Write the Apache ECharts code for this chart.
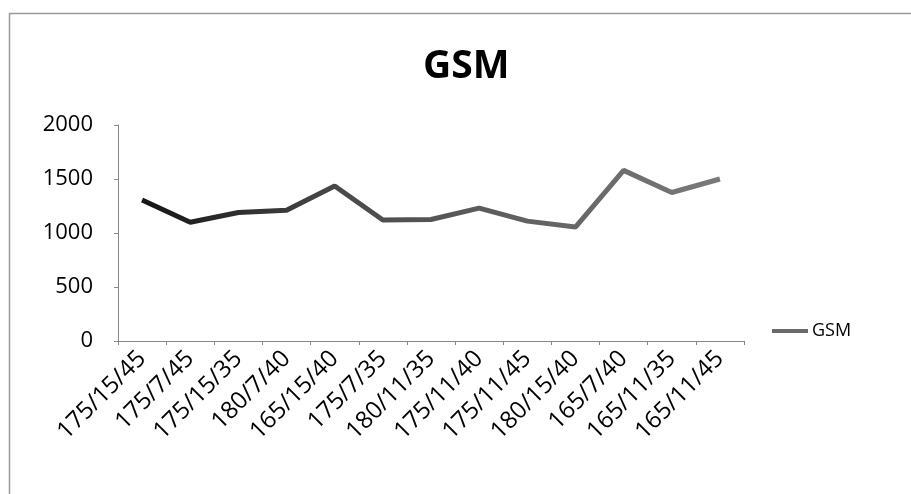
<!DOCTYPE html>
<html>
<head>
<meta charset="utf-8">
<script src="https://cdn.jsdelivr.net/npm/echarts@6/dist/echarts.min.js"></script>
<style>
  html, body { margin: 0; padding: 0; background: #fff; }
  #chart { width: 911px; height: 494px; }
</style>
</head>
<body>
<div id="chart"></div>
<script>
// Fabric specs (GSM reading per sample)
const categories = ['175/15/45', '175/7/45', '175/15/35', '180/7/40', '165/15/40', '175/7/35',
  '180/11/35', '175/11/40', '175/11/45', '180/15/40', '165/7/40', '165/11/35', '165/11/45'];
const gsmValues = [1305, 1100, 1190, 1210, 1435, 1120, 1125, 1230, 1110, 1055, 1580, 1375, 1500];
const yTicks = { min: 0, max: 2000, interval: 500 };

const FONT = 'Open Sans';
const chart = echarts.init(document.getElementById('chart'), null, { renderer: 'canvas' });

const lineColor = new echarts.graphic.LinearGradient(0, 0, 1, 0, [
  { offset: 0, color: '#151515' },
  { offset: 0.35, color: '#4a4a4a' },
  { offset: 1, color: '#7a7a7a' }
]);

chart.setOption({
  animation: false,
  backgroundColor: '#fff',
  title: {
    text: 'GSM',
    left: 423,
    top: 47,
    padding: 0,
    textStyle: { fontFamily: FONT, fontSize: 39, fontWeight: 'bold', color: '#000' }
  },
  legend: {
    data: [{ name: 'GSM', icon: 'rect' }],
    orient: 'vertical',
    left: 772,
    top: 322,
    padding: 0,
    itemWidth: 36,
    itemHeight: 4,
    itemGap: 4,
    textStyle: { fontFamily: FONT, fontSize: 18, color: '#000', padding: [0, 0, 0, -1] }
  },
  grid: { left: 118, right: 167, top: 125, bottom: 153 },
  xAxis: {
    type: 'category',
    data: categories,
    boundaryGap: true,
    axisLine: { lineStyle: { color: '#888', width: 1 } },
    axisTick: { show: true, length: 4, lineStyle: { color: '#888' } },
    axisLabel: {
      rotate: 45,
      interval: 0,
      margin: 14,
      fontFamily: FONT,
      fontSize: 24,
      color: '#000'
    }
  },
  yAxis: {
    type: 'value',
    min: yTicks.min,
    max: yTicks.max,
    interval: yTicks.interval,
    splitLine: { show: false },
    axisLine: { show: true, lineStyle: { color: '#888', width: 1 } },
    axisTick: { show: true, length: 4, lineStyle: { color: '#888' } },
    axisLabel: {
      margin: 25,
      fontFamily: FONT,
      fontSize: 22,
      color: '#000',
      formatter: v => String(v)
    }
  },
  series: [{
    name: 'GSM',
    type: 'line',
    data: gsmValues,
    symbol: 'none',
    lineStyle: { width: 5, color: lineColor },
    itemStyle: { color: '#6a6a6a' }
  }],
  graphic: [{
    type: 'rect',
    shape: { x: 9.5, y: 13.5, width: 960, height: 600 },
    style: { fill: 'none', stroke: '#9a9a9a', lineWidth: 1.5 },
    silent: true
  }]
});
</script>
</body>
</html>
